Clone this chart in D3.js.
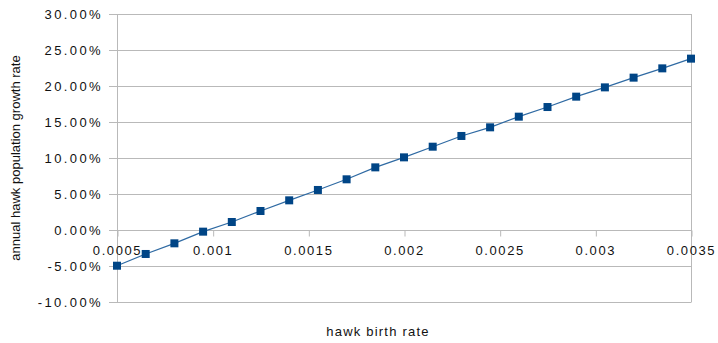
<!DOCTYPE html>
<html>
<head>
<meta charset="utf-8">
<script src="https://cdn.jsdelivr.net/npm/d3@7"></script>
<style>
  body { margin: 0; background: #fff; }
  text { font-family: "Liberation Sans", Arial, sans-serif; fill: #111; }
</style>
</head>
<body>
<svg id="chart"></svg>
<script>
// hawk birth rate (x) and annual growth rate in % (y)
var birthRates = [0.0005, 0.00065, 0.0008, 0.00095, 0.0011, 0.00125, 0.0014, 0.00155, 0.0017, 0.00185,
                  0.002, 0.00215, 0.0023, 0.00245, 0.0026, 0.00275, 0.0029, 0.00305, 0.0032, 0.00335, 0.0035];
var growthRates = [-4.96, -3.33, -1.85, -0.23, 1.11, 2.64, 4.12, 5.56, 7.04, 8.7,
                   10.09, 11.57, 13.06, 14.26, 15.74, 17.08, 18.52, 19.81, 21.16, 22.45, 23.8];
var xTicks = [0.0005, 0.001, 0.0015, 0.002, 0.0025, 0.003, 0.0035];
var yTicks = [-10, -5, 0, 5, 10, 15, 20, 25, 30];

var outerWidth = 718, outerHeight = 343;
var margins = { top: 14, right: 27, bottom: 41, left: 117 };
var innerWidth = outerWidth - margins.left - margins.right;
var innerHeight = outerHeight - margins.top - margins.bottom;

var svg = d3.select('svg#chart')
    .attr('width', outerWidth)
    .attr('height', outerHeight);

var g = svg.append('g')
    .attr('transform', 'translate(' + margins.left + ',' + margins.top + ')');

var xScale = d3.scaleLinear().domain([0.0005, 0.0035]).range([0, innerWidth]);
var yScale = d3.scaleLinear().domain([-10, 30]).range([innerHeight, 0]);

// horizontal grid, running a little past the left axis like tick marks
g.append('g')
    .selectAll('line')
    .data(yTicks)
    .join('line')
    .attr('x1', -8)
    .attr('x2', innerWidth)
    .attr('y1', d => yScale(d) + 0.5)
    .attr('y2', d => yScale(d) + 0.5)
    .attr('stroke', '#b9b9b9');

// frame (left axis line + right border)
g.append('line')
    .attr('x1', 0.5).attr('x2', 0.5).attr('y1', 0).attr('y2', innerHeight + 0.5)
    .attr('stroke', '#b9b9b9');
g.append('line')
    .attr('x1', innerWidth + 0.5).attr('x2', innerWidth + 0.5).attr('y1', 0).attr('y2', innerHeight + 0.5)
    .attr('stroke', '#b9b9b9');

// y axis labels
var yAxis = d3.axisLeft(yScale)
    .tickValues(yTicks)
    .tickSize(0)
    .tickPadding(14)
    .tickFormat(d => d.toFixed(2) + '%');
var gy = g.append('g').call(yAxis);
gy.select('.domain').remove();
gy.selectAll('text')
    .style('font-size', '13px')
    .style('letter-spacing', '2.4px')
    .attr('fill', '#111');

// x axis sits on the 0% line
var xAxis = d3.axisBottom(xScale)
    .tickValues(xTicks)
    .tickSize(6)
    .tickPadding(9)
    .tickFormat(d => String(+d.toFixed(4)));
var gx = g.append('g')
    .attr('transform', 'translate(0,' + (yScale(0) + 0.5) + ')')
    .call(xAxis);
gx.select('.domain').remove();
gx.selectAll('line').attr('stroke', '#b9b9b9').attr('transform', 'translate(0.5,0)');
gx.selectAll('text')
    .style('font-size', '13px')
    .style('letter-spacing', '1.6px')
    .attr('fill', '#111');

// series line + square markers
var points = birthRates.map((b, i) => ({ x: b, y: growthRates[i] }));
var line = d3.line().x(d => xScale(d.x)).y(d => yScale(d.y));
g.append('path')
    .datum(points)
    .attr('d', line)
    .attr('fill', 'none')
    .attr('stroke', '#2f6aa3')
    .attr('stroke-width', 1.2);

var size = 8;
g.selectAll('rect.pt')
    .data(points)
    .join('rect')
    .attr('class', 'pt')
    .attr('x', d => xScale(d.x) - size / 2)
    .attr('y', d => yScale(d.y) - size / 2)
    .attr('width', size)
    .attr('height', size)
    .attr('fill', '#004586');

// axis titles
svg.append('text')
    .attr('x', 378)
    .attr('y', 336)
    .attr('text-anchor', 'middle')
    .style('font-size', '13px')
    .style('letter-spacing', '1.2px')
    .text('hawk birth rate');

svg.append('text')
    .attr('transform', 'translate(20,' + (margins.top + innerHeight / 2) + ') rotate(-90)')
    .attr('text-anchor', 'middle')
    .style('font-size', '13px')
    .text('annual hawk population growth rate');
</script>
</body>
</html>
